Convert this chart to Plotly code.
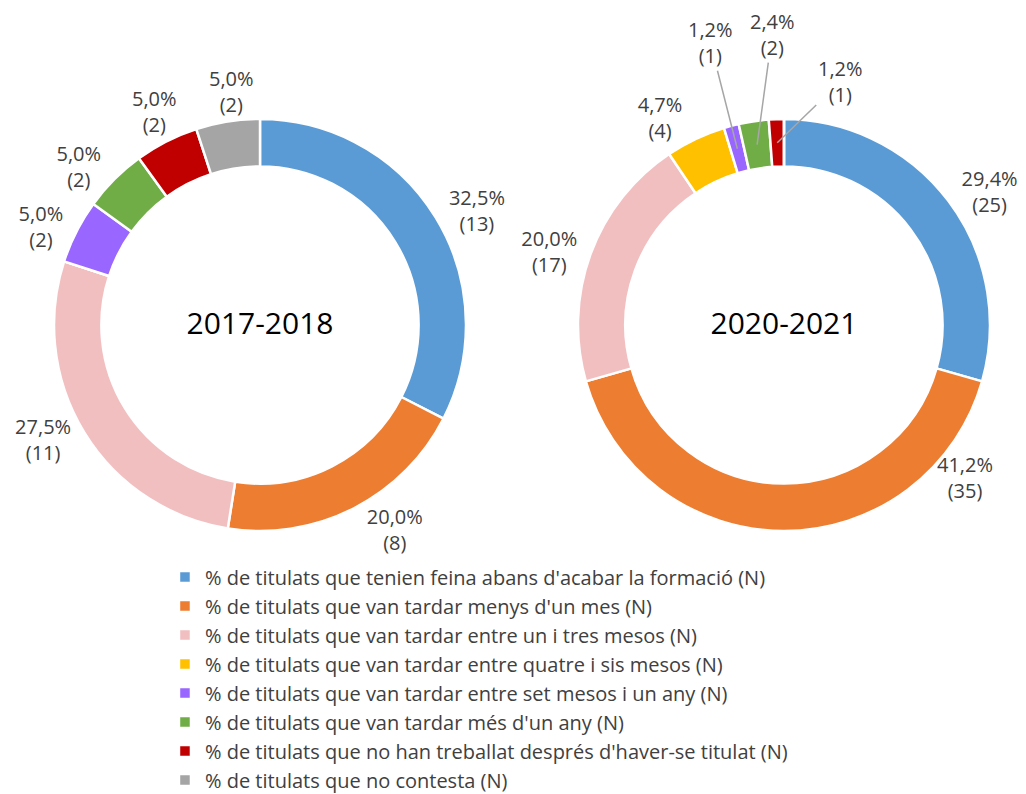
import math
import plotly.graph_objects as go

categories = [
    "% de titulats que tenien feina abans d'acabar la formació (N)",
    "% de titulats que van tardar menys d'un mes (N)",
    "% de titulats que van tardar entre un i tres mesos (N)",
    "% de titulats que van tardar entre quatre i sis mesos (N)",
    "% de titulats que van tardar entre set mesos i un any (N)",
    "% de titulats que van tardar més d'un any (N)",
    "% de titulats que no han treballat després d'haver-se titulat (N)",
    "% de titulats que no contesta (N)",
]
values_2017 = [13, 8, 11, 0, 2, 2, 2, 2]
values_2020 = [25, 35, 17, 4, 1, 2, 1, 0]
colors = ["#5B9BD5", "#ED7D31", "#F2BFC1", "#FFC000", "#9966FF", "#70AD47", "#C00000", "#A5A5A5"]
titles = ["2017-2018", "2020-2021"]

W, H = 1018, 786
FONT = "Open Sans"
TXT = "#404040"
HOLE = 0.77
YDOM = [0.3346, 0.8588]
XDOMS = [[0.0452, 0.4499], [0.5599, 0.9646]]

# labels placed by tuned offsets: (trace, slice) -> (offset px, radius fraction of anchor, show leader line)
callouts = {
    (0, 6): ((-12, -30), 1.0, False),
    (0, 7): ((4, -30), 1.0, False),
    (1, 1): ((181, -53), 1.0, False),
    (1, 4): ((-27, -106), None, True),
    (1, 5): ((15, -110), None, True),
    (1, 6): ((63, -61), None, True),
}

fig = go.Figure()
annotations = []
for ti, (vals, title, xdom) in enumerate(zip([values_2017, values_2020], titles, XDOMS)):
    total = sum(vals)
    tmpl = []
    for si, v in enumerate(vals):
        if v > 0 and (ti, si) not in callouts:
            tmpl.append("%{percent:.1%}<br>(%{value})")
        else:
            tmpl.append("")
    fig.add_trace(go.Pie(
        labels=categories,
        values=vals,
        hole=HOLE,
        sort=False,
        direction="clockwise",
        rotation=0,
        automargin=False,
        marker=dict(colors=colors, line=dict(color="white", width=2.5)),
        texttemplate=tmpl,
        textposition="outside",
        textfont=dict(family=FONT, size=20, color=TXT),
        title=dict(text=title, position="middle center", font=dict(family=FONT, size=30, color="black")),
        domain=dict(x=xdom, y=YDOM),
        hoverinfo="label+value+percent",
    ))
    cx = (xdom[0] + xdom[1]) / 2
    cy = (YDOM[0] + YDOM[1]) / 2
    rpx = (xdom[1] - xdom[0]) * W / 2
    cum = 0
    for si, v in enumerate(vals):
        if (ti, si) in callouts:
            (ax, ay), rfrac, line = callouts[(ti, si)]
            rr = rpx * (rfrac if rfrac is not None else (1 + HOLE) / 2)
            th = 2 * math.pi * (cum + v / 2) / total
            pct = f"{100 * v / total:.1f}".replace(".", ",")
            annotations.append(dict(
                x=cx + rr * math.sin(th) / W,
                y=cy + rr * math.cos(th) / H,
                xref="paper", yref="paper",
                text=f"{pct}%<br>({v})",
                showarrow=True, arrowhead=0, arrowwidth=1.5,
                arrowcolor="#A6A6A6" if line else "rgba(0,0,0,0)",
                ax=ax, ay=ay, standoff=0,
                font=dict(family=FONT, size=20, color=TXT),
            ))
        cum += v

fig.update_layout(
    width=W, height=H,
    margin=dict(l=0, r=0, t=0, b=0, autoexpand=False),
    paper_bgcolor="white",
    separators=",.",
    font=dict(family=FONT, color=TXT),
    showlegend=True,
    annotations=annotations,
    legend=dict(
        x=0.1542, y=-0.007, xanchor="left", yanchor="bottom",
        font=dict(family=FONT, size=20, color=TXT),
        traceorder="normal",
        itemwidth=30,
    ),
)

fig.write_html("out.html")
